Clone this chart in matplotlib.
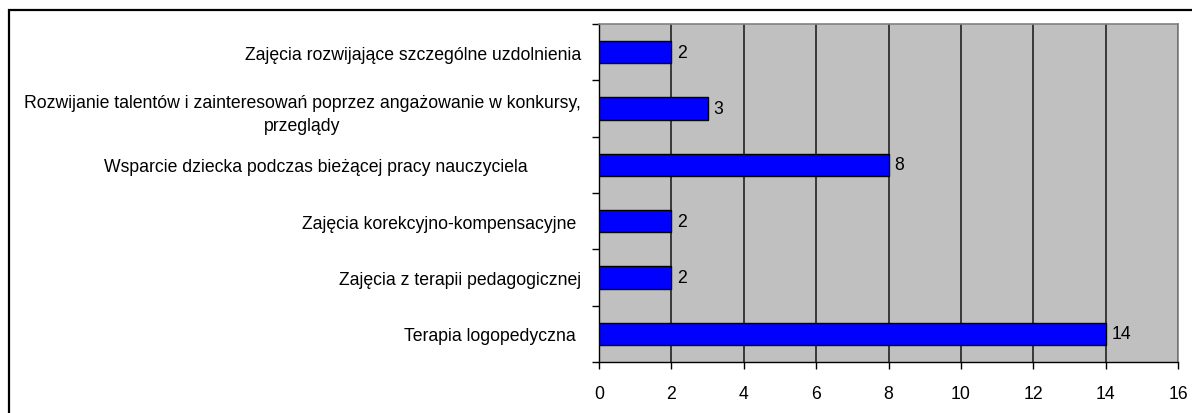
import numpy as np
import matplotlib
matplotlib.use("Agg")
import matplotlib.pyplot as plt
from matplotlib.patches import Rectangle

# categories from bottom to top, as drawn
categories = [
    "Terapia logopedyczna ",
    "Zajęcia z terapii pedagogicznej",
    "Zajęcia korekcyjno-kompensacyjne ",
    "Wsparcie dziecka podczas bieżącej pracy nauczyciela" + " " * 11,
    "Rozwijanie talentów i zainteresowań poprzez angażowanie w konkursy,\nprzeglądy",
    "Zajęcia rozwijające szczególne uzdolnienia",
]
values = [14, 2, 2, 8, 3, 2]
x_ticks = [0, 2, 4, 6, 8, 10, 12, 14, 16]

plt.rcParams['font.family'] = ['Liberation Sans', 'DejaVu Sans']
fs = 12.7

fig = plt.figure(figsize=(11.92, 4.14), dpi=100)
W, H = 1192, 414

# outer chart frame (clipped at right / bottom)
fig.patches.append(Rectangle((9 / W, -0.1), 1.2, 1 - 11 / H + 0.1,
                             transform=fig.transFigure, fill=False,
                             edgecolor='black', linewidth=1.6))

ax = fig.add_axes([599 / W, 51 / H, 579 / W, 338 / H])
ax.set_facecolor('#C0C0C0')

y = np.arange(len(values))
ax.barh(y, values, height=0.4, color='#0000FF', edgecolor='black',
        linewidth=1.0, zorder=3)

for yi, v in zip(y, values):
    ax.annotate(str(v), (v, yi), xytext=(4, 0), textcoords='offset points',
                va='center', ha='left', fontsize=fs, zorder=4)

ax.set_xlim(0, 16)
ax.set_ylim(-0.5, len(values) - 0.5)
ax.set_xticks(x_ticks)
ax.set_xticklabels([str(t) for t in x_ticks], fontsize=fs)
ax.xaxis.grid(True, color='#222222', linewidth=1.2, zorder=1)
ax.set_axisbelow(True)

ax.set_yticks(y)
ax.set_yticklabels(categories, fontsize=fs, multialignment='center',
                   linespacing=1.5)
ax.set_yticks(np.arange(-0.5, len(values)), minor=True)
ax.tick_params(axis='y', which='major', length=0, pad=13)
ax.tick_params(axis='y', which='minor', length=5, direction='out', width=1.0)
ax.tick_params(axis='x', length=5, direction='out', width=1.0, pad=11.5)

for s in ['top', 'right']:
    ax.spines[s].set_color('#808080')
    ax.spines[s].set_linewidth(1.2)
for s in ['left', 'bottom']:
    ax.spines[s].set_color('black')
    ax.spines[s].set_linewidth(1.0)

fig.savefig("out.png", dpi=100)
